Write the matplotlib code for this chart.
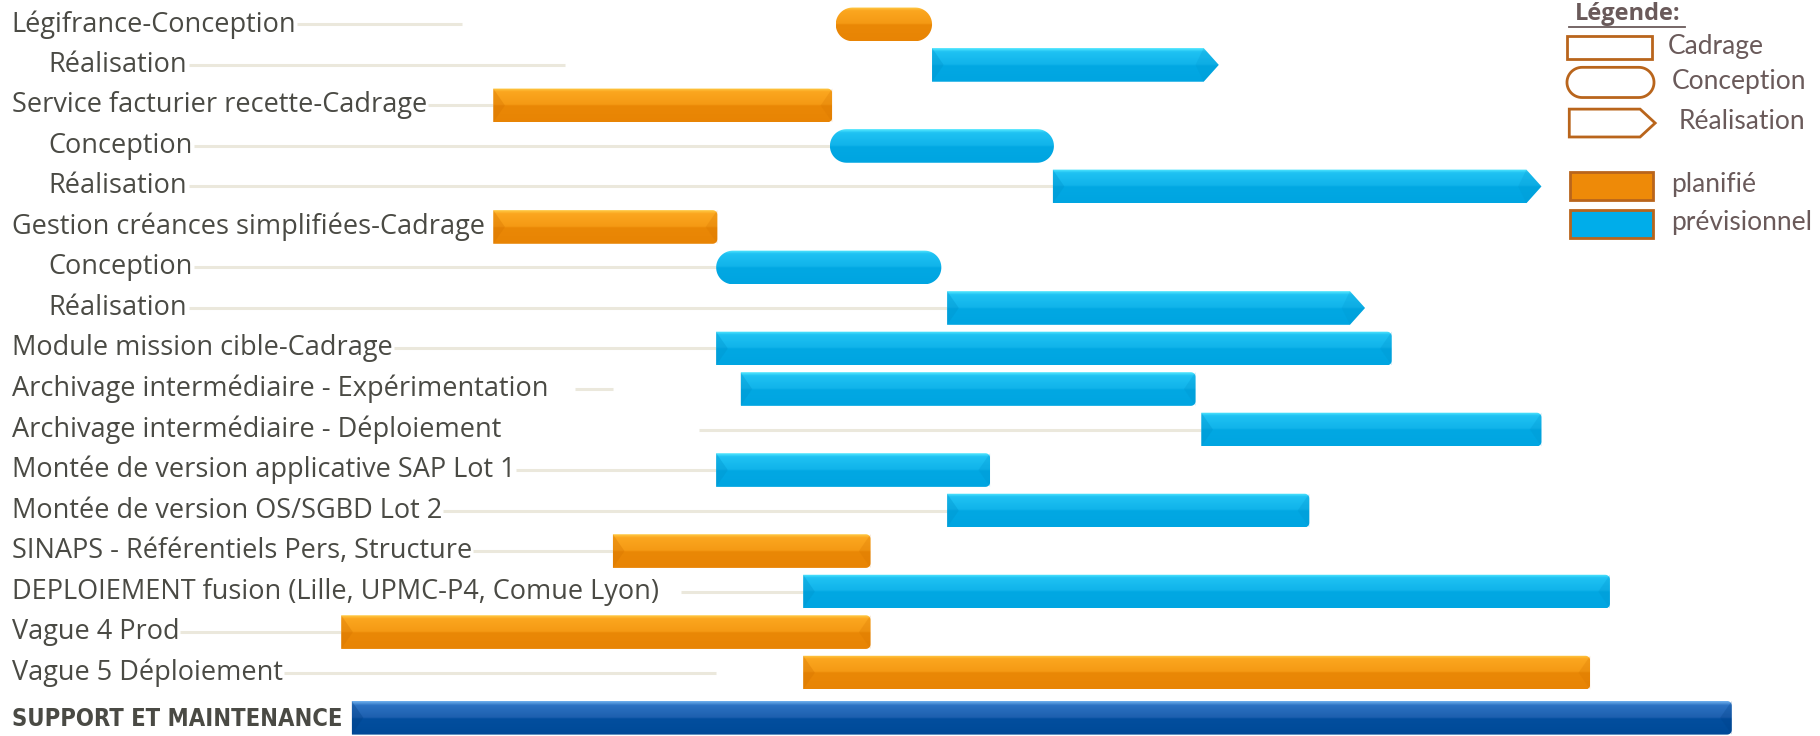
import numpy as np
import matplotlib
matplotlib.use("Agg")
import matplotlib.pyplot as plt
from matplotlib.patches import Polygon
from matplotlib.colors import LinearSegmentedColormap

# rows of the planning, top to bottom
labels = [
    "Légifrance-Conception", "Réalisation",
    "Service facturier recette-Cadrage", "Conception", "Réalisation",
    "Gestion créances simplifiées-Cadrage", "Conception", "Réalisation",
    "Module mission cible-Cadrage",
    "Archivage intermédiaire - Expérimentation",
    "Archivage intermédiaire - Déploiement",
    "Montée de version applicative SAP Lot 1",
    "Montée de version OS/SGBD Lot 2",
    "SINAPS - Référentiels Pers, Structure",
    "DEPLOIEMENT fusion (Lille, UPMC-P4, Comue Lyon)",
    "Vague 4 Prod",
    "Vague 5 Déploiement",
    "SUPPORT ET MAINTENANCE",
]
sub_row = [0, 1, 0, 1, 1, 0, 1, 1, 0, 0, 0, 0, 0, 0, 0, 0, 0, 0]

# timeline positions (arbitrary units, same scale as the slide)
starts = [720, 803, 425, 715, 907, 425, 617, 816, 617, 638, 1035, 617, 816, 528, 692, 294, 692, 303]
ends = [803, 1050, 717, 908, 1328, 618, 811, 1176, 1199, 1030, 1328, 853, 1128, 750, 1387, 750, 1370, 1492]
phase = ["conception", "realisation", "cadrage", "conception", "realisation",
         "cadrage", "conception", "realisation", "cadrage", "cadrage", "cadrage",
         "cadrage", "cadrage", "cadrage", "cadrage", "cadrage", "cadrage", "cadrage"]
status = ["planifie", "previsionnel", "planifie", "previsionnel", "previsionnel",
          "planifie", "previsionnel", "previsionnel", "previsionnel", "previsionnel",
          "previsionnel", "previsionnel", "previsionnel", "planifie", "previsionnel",
          "planifie", "planifie", "support"]

# leftover guide lines of the slide (None = starts right after the label)
guide_start = [None, None, None, None, None, None, None, None, None, 495, 602,
               None, None, None, 587, None, None, None]
guide_end = [398, 487, 425, 715, 907, None, 617, 816, 617, 528, 1035, 617, 816,
             528, 692, 294, 617, None]

legend_shapes = ["Cadrage", "Conception", "Réalisation"]
legend_status = ["planifié", "prévisionnel"]

W, H = 1568.0, 634.0      # slide units
ROW0, STEP = 21.0, 34.9
BAR_H = 29.0

cmaps = {
    "planifie": LinearSegmentedColormap.from_list("o", [
        (0, "#ffcb45"), (0.1, "#fba61f"), (0.48, "#f59a14"), (0.52, "#ea8806"), (1, "#e88404")]),
    "previsionnel": LinearSegmentedColormap.from_list("b", [
        (0, "#55e8ff"), (0.1, "#1fc2f3"), (0.48, "#10b3ea"), (0.52, "#02a8e3"), (1, "#00a5e1")]),
    "support": LinearSegmentedColormap.from_list("d", [
        (0, "#6fb0ee"), (0.12, "#2c72c2"), (0.48, "#1d5fae"), (0.52, "#034e9e"), (1, "#004a98")]),
}
facet = {"planifie": "#d67400", "previsionnel": "#0093cc", "support": "#003f86"}

txt_col = "#4a4a44"
leg_col = "#6a5a5a"
leg_edge = "#b9651c"
label_font = ["Open Sans", "DejaVu Sans"]
leg_font = ["Lato", "DejaVu Sans"]


def row_y(i):
    y = ROW0 + STEP * i
    if i == len(labels) - 1:
        y += 4
    return y


def outline(kind, x0, x1, yc, h):
    top, bot = yc - h / 2, yc + h / 2
    if kind == "realisation":
        tip = 13
        return np.array([[x0, top], [x1 - tip, top], [x1, yc], [x1 - tip, bot], [x0, bot]])
    r = 4
    t = np.linspace(0, np.pi / 2, 8)
    tr = np.column_stack([x1 - r + r * np.sin(t), top + r - r * np.cos(t)])
    br = np.column_stack([x1 - r + r * np.cos(t), bot - r + r * np.sin(t)])
    return np.vstack([[[x0, top]], tr, br, [[x0, bot]]])


def pill_points(x0, x1, yc, h):
    r = h / 2
    t = np.linspace(-np.pi / 2, np.pi / 2, 30)
    right = np.column_stack([x1 - r + r * np.cos(t), yc + r * np.sin(t)])
    t2 = np.linspace(np.pi / 2, 3 * np.pi / 2, 30)
    left = np.column_stack([x0 + r + r * np.cos(t2), yc + r * np.sin(t2)])
    return np.vstack([right, left])


def draw_bar(ax, kind, st, x0, x1, yc, h):
    if kind == "conception":
        pts = pill_points(x0, x1, yc, h)
    else:
        pts = outline(kind, x0, x1, yc, h)
    patch = Polygon(pts, closed=True, facecolor="none", edgecolor="none", zorder=3)
    ax.add_patch(patch)
    grad = np.linspace(0, 1, 64).reshape(-1, 1)
    im = ax.imshow(grad, cmap=cmaps[st], aspect="auto", origin="upper",
                   extent=(x0, x1, yc + h / 2, yc - h / 2), zorder=3,
                   interpolation="bilinear")
    im.set_clip_path(patch)
    if kind != "conception":
        f = 10
        ax.add_patch(Polygon([[x0, yc - h / 2], [x0 + f, yc], [x0, yc + h / 2]],
                             closed=True, facecolor=facet[st], alpha=0.35,
                             edgecolor="none", zorder=4))
        if kind == "cadrage":
            ax.add_patch(Polygon([[x1, yc - h / 2], [x1 - f, yc], [x1, yc + h / 2]],
                                 closed=True, facecolor=facet[st], alpha=0.25,
                                 edgecolor="none", zorder=4))
        else:
            ax.add_patch(Polygon([[x1 - 13, yc - h / 2], [x1, yc], [x1 - 13, yc + h / 2],
                                  [x1 - 20, yc]], closed=True, facecolor=facet[st],
                                 alpha=0.2, edgecolor="none", zorder=4))


fig = plt.figure(figsize=(18.2, 7.36), dpi=100)
ax = fig.add_axes([0, 0, 1, 1])
ax.set_xlim(0, W)
ax.set_ylim(H, 0)
ax.axis("off")

texts = []
for i, lab in enumerate(labels):
    y = row_y(i)
    x = 42 if sub_row[i] else 10
    if i == len(labels) - 1:
        t = ax.text(x, y + 1, lab, fontsize=17, fontweight="bold", color="#4a4a44",
                    family=["Liberation Sans Narrow", "DejaVu Sans"], stretch="condensed",
                    va="center", ha="left", zorder=6)
    else:
        t = ax.text(x, y, lab, fontsize=19.5, color=txt_col, family=label_font,
                    va="center", ha="left", zorder=6)
    texts.append(t)

for i in range(len(labels)):
    draw_bar(ax, phase[i], status[i], starts[i], ends[i], row_y(i), BAR_H)

fig.canvas.draw()
inv = ax.transData.inverted()
for i, t in enumerate(texts):
    if guide_end[i] is None:
        continue
    bb = t.get_window_extent()
    x_txt = inv.transform((bb.x1, bb.y0))[0] + 1
    xs = guide_start[i] if guide_start[i] is not None else x_txt
    if xs >= guide_end[i]:
        continue
    ax.plot([xs, guide_end[i]], [row_y(i), row_y(i)], color="#ebe8dc", lw=2.2,
            solid_capstyle="butt", zorder=2)

# legend
ax.text(1402, 12, "Légende:", fontsize=17, fontweight="bold", color=leg_col,
        family=["Open Sans", "DejaVu Sans"], ha="center", va="center", zorder=6)
ax.plot([1352, 1452], [23, 23], color=leg_col, lw=1.3, zorder=6)

leg_y = [41, 71, 106]
leg_tx = [1437, 1440, 1446]
for k, name in enumerate(legend_shapes):
    kind = ["cadrage", "conception", "realisation"][k]
    yc = leg_y[k]
    if kind == "conception":
        pts = pill_points(1350, 1425, yc, 26)
    elif kind == "realisation":
        pts = outline("realisation", 1352, 1426, yc, 24)
    else:
        pts = np.array([[1350, yc - 10], [1423, yc - 10], [1423, yc + 10], [1350, yc + 10]])
    ax.add_patch(Polygon(pts, closed=True, facecolor="white", edgecolor=leg_edge,
                         lw=2, zorder=5))
    ax.text(leg_tx[k], yc - 1, name, fontsize=19, color=leg_col, family=leg_font,
            ha="left", va="center", zorder=6)

stat_y = [160, 193]
stat_fc = ["#ee8a08", "#00adea"]
for k, name in enumerate(legend_status):
    yc = stat_y[k]
    ax.add_patch(Polygon([[1353, yc - 12], [1424, yc - 12], [1424, yc + 12], [1353, yc + 12]],
                         closed=True, facecolor=stat_fc[k], edgecolor=leg_edge, lw=2, zorder=5))
    ax.text(1440, yc - 1, name, fontsize=19, color=leg_col, family=leg_font,
            ha="left", va="center", zorder=6)

fig.savefig("out.png", dpi=100)
